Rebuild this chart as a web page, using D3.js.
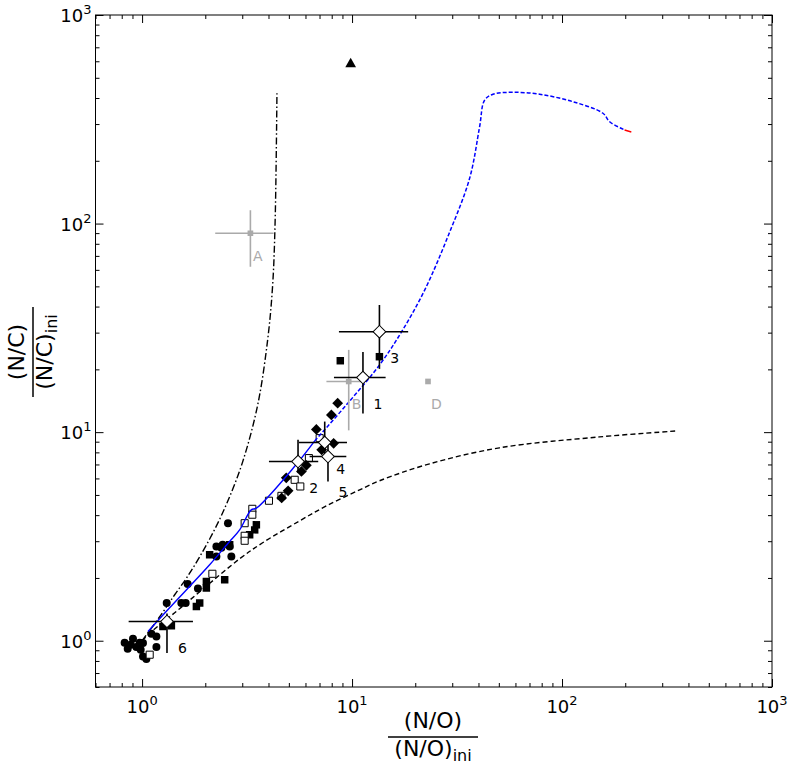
<!DOCTYPE html>
<html>
<head>
<meta charset="utf-8">
<script src="https://cdn.jsdelivr.net/npm/d3@7"></script>
<style>
  body { margin: 0; background: #fff; }
  text { font-family: "DejaVu Sans", sans-serif; }
</style>
</head>
<body>
<div id="chart"></div>
<script>
const WIDTH = 789;
const HEIGHT = 768;
const LEFT = 95.5, RIGHT = 772, TOP = 15, BOTTOM = 687;

// axis ticks (decades)
const xTicks = [1, 10, 100, 1000];
const yTicks = [1, 10, 100, 1000];

// observed stars, [N/O ratio, N/C ratio]
const filledCircles = [
  [0.826, 0.978], [0.882, 0.957], [0.905, 1.022], [0.939, 0.933], [0.974, 0.978],
  [1.01, 0.975], [1.01, 0.841], [1.048, 0.817], [1.107, 1.08], [1.17, 1.048],
  [1.17, 0.933], [1.31, 1.516], [1.538, 1.516], [1.613, 1.516], [1.649, 1.87],
  [1.845, 1.781], [2.259, 2.83], [2.386, 2.79], [2.42, 2.884], [2.565, 3.66],
  [2.662, 2.535], [2.259, 2.535], [2.613, 2.83], [0.854, 0.915], [0.985, 0.906]
];
const filledSquares = [
  [1.257, 1.171], [1.379, 1.18], [1.814, 1.46], [1.881, 1.516], [2.024, 1.924],
  [2.024, 1.788], [2.098, 2.583], [2.474, 1.96], [2.613, 2.884], [3.438, 3.40],
  [3.502, 3.596], [3.253, 3.22], [8.79, 22.0], [13.5, 23.0]
];
const openSquares = [
  [1.087, 0.857], [2.162, 2.094], [3.08, 3.66], [3.08, 3.185], [3.08, 3.015],
  [3.35, 4.29], [3.35, 4.02], [4.02, 4.69], [4.61, 4.95], [5.33, 5.91],
  [5.67, 5.49], [6.23, 7.51], [7.01, 9.36]
];
const filledDiamonds = [
  [8.54, 13.77], [7.97, 12.1], [6.76, 10.31], [8.17, 8.84], [7.17, 8.23],
  [6.06, 6.93], [5.74, 6.48], [4.86, 6.04], [4.96, 5.23], [4.62, 4.84]
];
const triangles = [[9.85, 582]];

// numbered objects with error bars: [id, x, y, xlo, xhi, ylo, yhi]
const numbered = [
  ['1', 11.27, 18.27, 8.2, 14.45, 12.3, 24.2],
  ['2', 5.53, 7.23, 4.02, 6.9, 6.38, 9.19],
  ['3', 13.5, 30.3, 8.66, 18.5, 20.1, 40.7],
  ['4', 7.41, 8.92, 5.59, 9.46, 7.78, 11.24],
  ['5', 7.68, 7.64, 6.28, 9.39, 5.8, 9.19],
  ['6', 1.314, 1.237, 0.863, 1.747, 0.873, 1.35]
];
const lettered = [
  ['A', 3.28, 89.9, 2.23, 4.23, 62.1, 116],
  ['B', 9.64, 17.5, 7.55, 11.48, 10.2, 24.8],
  ['D', 23.0, 17.5, 23.0, 23.0, 17.5, 17.5]
];
// annotation anchor points [text, x, y]
const numberLabels = [
  ['1', 13.3, 13.7], ['2', 6.56, 5.39], ['3', 15.95, 22.6],
  ['4', 8.83, 6.65], ['5', 9.05, 5.19], ['6', 1.556, 0.923]
];
const letterLabels = [['A', 3.56, 70], ['B', 10.5, 13.7], ['D', 25.2, 13.7]];

// model tracks
const dashDotTrack = [
  [1.0, 1.0], [1.213, 1.303], [1.43, 1.661], [1.631, 2.004], [1.881, 2.527],
  [2.212, 3.402], [2.551, 4.634], [3.013, 7.205], [3.553, 13.51], [3.963, 27.7],
  [4.187, 50.8], [4.303, 104.1], [4.389, 427]
];
const dashedTrack = [
  [1.0, 1.0], [1.123, 1.117], [1.43, 1.362], [1.881, 1.717], [2.915, 2.471],
  [3.75, 2.949], [5.63, 3.758], [7.57, 4.436], [10.87, 5.29], [13.5, 5.845],
  [23.4, 7.05], [50.3, 8.41], [151, 9.49], [355, 10.14]
];
const blueSolid = [
  [1.067, 1.108], [1.353, 1.439], [2.098, 2.313], [2.61, 2.99], [2.915, 3.40],
  [3.31, 4.24], [3.5, 4.32], [5.32, 6.84], [6.64, 9.08]
];
const blueDashed = [
  [6.64, 9.08], [9.39, 13.5], [13.52, 21.0], [17.22, 30.3], [22.2, 48.1],
  [28.8, 88.2], [36.3, 164.8], [40.5, 291], [42.8, 391], [46.9, 417],
  [58.3, 426], [78.2, 417], [112.7, 384], [156.7, 338], [168.6, 307.6], [198.6, 281]
];
const redTail = [[198.6, 281], [213.8, 275]];

const svg = d3.select('#chart')
  .append('svg')
  .attr('width', WIDTH)
  .attr('height', HEIGHT);

const xScale = d3.scaleLog().domain([0.6, 1000]).range([LEFT, RIGHT]);
const yScale = d3.scaleLog().domain([0.6, 1000]).range([BOTTOM, TOP]);

svg.append('clipPath').attr('id', 'plot')
  .append('rect')
  .attr('x', LEFT).attr('y', TOP)
  .attr('width', RIGHT - LEFT).attr('height', BOTTOM - TOP);

// ticks, all inward
const isMajor = v => Math.abs(Math.log10(v) - Math.round(Math.log10(v))) < 1e-9;
const minorX = xScale.ticks().filter(v => !isMajor(v));
const minorY = yScale.ticks().filter(v => !isMajor(v));

function drawAxis(axisFn, scale, minor, major, transform) {
  [[minor, 4], [major, 8]].forEach(([vals, size]) => {
    svg.append('g')
      .attr('transform', transform)
      .call(axisFn(scale).tickValues(vals).tickSize(-size).tickSizeOuter(0).tickFormat(''))
      .call(g => g.select('.domain').remove())
      .call(g => g.selectAll('line').attr('stroke', '#000').attr('stroke-width', 1));
  });
}
drawAxis(d3.axisBottom, xScale, minorX, xTicks, `translate(0,${BOTTOM})`);
drawAxis(d3.axisTop, xScale, minorX, xTicks, `translate(0,${TOP})`);
drawAxis(d3.axisLeft, yScale, minorY, yTicks, `translate(${LEFT},0)`);
drawAxis(d3.axisRight, yScale, minorY, yTicks, `translate(${RIGHT},0)`);

svg.append('rect')
  .attr('x', LEFT).attr('y', TOP)
  .attr('width', RIGHT - LEFT).attr('height', BOTTOM - TOP)
  .attr('fill', 'none').attr('stroke', '#000').attr('stroke-width', 1);

// tick labels 10^n
function powerLabel(sel) {
  sel.each(function (d) {
    const t = d3.select(this);
    t.append('tspan').text('10');
    t.append('tspan').attr('dy', -8).style('font-size', '13px').text(Math.round(Math.log10(d)));
  });
}
svg.selectAll('.xlab').data(xTicks).enter().append('text')
  .attr('x', d => xScale(d))
  .attr('y', BOTTOM + 26)
  .attr('text-anchor', 'middle')
  .style('font-size', '18px')
  .call(powerLabel);
svg.selectAll('.ylab').data(yTicks).enter().append('text')
  .attr('x', LEFT - 4)
  .attr('y', d => yScale(d) + 7)
  .attr('text-anchor', 'end')
  .style('font-size', '18px')
  .call(powerLabel);

// axis titles (fractions)
function fraction(g, name) {
  g.append('text').attr('x', 0).attr('y', -9)
    .attr('text-anchor', 'middle').style('font-size', '22px')
    .text(`(${name})`);
  g.append('line').attr('x1', -45).attr('x2', 45).attr('y1', 0).attr('y2', 0)
    .attr('stroke', '#000').attr('stroke-width', 1.5);
  const den = g.append('text').attr('x', 0).attr('y', 19)
    .attr('text-anchor', 'middle').style('font-size', '22px');
  den.append('tspan').text(`(${name})`);
  den.append('tspan').attr('dy', 5).style('font-size', '16px').text('ini');
}
fraction(svg.append('g').attr('transform', 'translate(433,737)'), 'N/O');
fraction(svg.append('g').attr('transform', 'translate(33,352) rotate(-90)'), 'N/C');

const plot = svg.append('g').attr('clip-path', 'url(#plot)');
const px = d => xScale(d[0]);
const py = d => yScale(d[1]);

// markers
function markers(data, type, size, fill, stroke, rotate) {
  plot.append('g')
    .selectAll('path')
    .data(data)
    .enter()
    .append('path')
    .attr('d', d3.symbol().type(type).size(size))
    .attr('transform', d => `translate(${px(d)},${py(d)}) rotate(${rotate || 0})`)
    .attr('fill', fill)
    .attr('stroke', stroke || 'none')
    .attr('stroke-width', 1);
}
markers(filledCircles, d3.symbolCircle, 50, '#000');
markers(filledSquares, d3.symbolSquare, 56, '#000');
markers(openSquares, d3.symbolSquare, 50, '#fff', '#000');
markers(filledDiamonds, d3.symbolSquare, 58, '#000', null, 45);
markers(triangles, d3.symbolTriangle, 50, '#000');

// model tracks
const line = d3.line().x(px).y(py).curve(d3.curveCatmullRom.alpha(0.5));
function track(data, color, dash, width) {
  plot.append('path')
    .datum(data)
    .attr('d', line)
    .attr('fill', 'none')
    .attr('stroke', color)
    .attr('stroke-width', width)
    .attr('stroke-dasharray', dash);
}
track(dashDotTrack, '#000', '7,2.5,1.5,2.5', 1.4);
track(dashedTrack, '#000', '5,3', 1.4);
track(blueSolid, '#0000ff', null, 1.4);
track(blueDashed, '#0000ff', '4,2', 1.5);
track(redTail, '#ff0000', null, 1.5);

// error bars
function errorBars(data, color) {
  const g = plot.append('g').attr('stroke', color).attr('stroke-width', 1.6);
  data.forEach(d => {
    g.append('line')
      .attr('x1', xScale(d[3])).attr('x2', xScale(d[4]))
      .attr('y1', yScale(d[2])).attr('y2', yScale(d[2]));
    g.append('line')
      .attr('x1', xScale(d[1])).attr('x2', xScale(d[1]))
      .attr('y1', yScale(d[5])).attr('y2', yScale(d[6]));
  });
}
errorBars(lettered, '#aaaaaa');
errorBars(numbered, '#000');

plot.append('g')
  .selectAll('path')
  .data(lettered)
  .enter()
  .append('path')
  .attr('d', d3.symbol().type(d3.symbolSquare).size(32))
  .attr('transform', d => `translate(${xScale(d[1])},${yScale(d[2])})`)
  .attr('fill', '#aaaaaa');

plot.append('g')
  .selectAll('path')
  .data(numbered)
  .enter()
  .append('path')
  .attr('d', d3.symbol().type(d3.symbolSquare).size(80))
  .attr('transform', d => `translate(${xScale(d[1])},${yScale(d[2])}) rotate(45)`)
  .attr('fill', '#fff')
  .attr('stroke', '#000')
  .attr('stroke-width', 1);

// annotations
function annotate(data, color) {
  svg.append('g')
    .selectAll('text')
    .data(data)
    .enter()
    .append('text')
    .attr('x', d => xScale(d[1]))
    .attr('y', d => yScale(d[2]) + 5)
    .attr('text-anchor', 'middle')
    .attr('fill', color)
    .style('font-size', '14px')
    .text(d => d[0]);
}
annotate(numberLabels, '#000');
annotate(letterLabels, '#aaaaaa');
</script>
</body>
</html>
